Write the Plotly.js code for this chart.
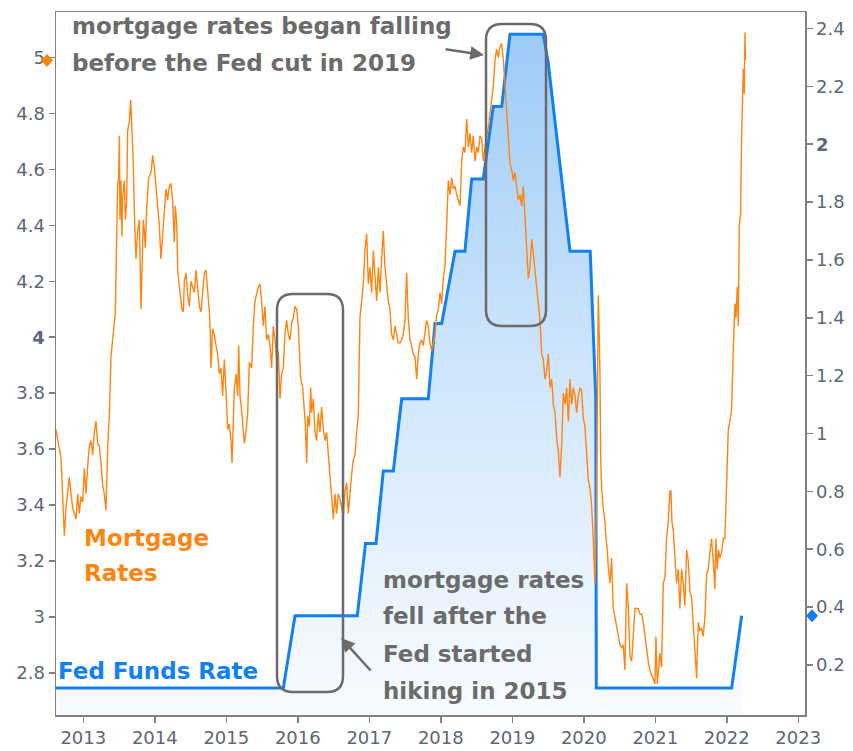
<!DOCTYPE html>
<html><head><meta charset="utf-8">
<script src="https://cdn.plot.ly/plotly-3.0.1.min.js"></script>
<style>html,body{margin:0;padding:0;background:#fff}#chart{width:853px;height:751px}</style>
</head><body><div id="chart"></div>
<script>
// ---- data ----
const mortYear = [2012.618,2012.641,2012.665,2012.688,2012.711,2012.735,2012.758,2012.781,2012.804,2012.828,2012.851,2012.874,2012.898,2012.921,2012.944,2012.968,2012.991,2013.014,2013.038,2013.061,2013.084,2013.107,2013.131,2013.154,2013.177,2013.201,2013.224,2013.247,2013.271,2013.294,2013.317,2013.341,2013.364,2013.387,2013.411,2013.434,2013.448,2013.466,2013.480,2013.494,2013.504,2013.513,2013.527,2013.541,2013.550,2013.574,2013.588,2013.606,2013.620,2013.644,2013.662,2013.681,2013.700,2013.718,2013.737,2013.760,2013.784,2013.807,2013.821,2013.839,2013.853,2013.867,2013.886,2013.914,2013.947,2013.970,2013.993,2014.017,2014.040,2014.063,2014.086,2014.110,2014.133,2014.156,2014.180,2014.203,2014.226,2014.250,2014.273,2014.287,2014.306,2014.320,2014.334,2014.352,2014.380,2014.399,2014.413,2014.436,2014.460,2014.483,2014.506,2014.529,2014.553,2014.576,2014.599,2014.623,2014.646,2014.669,2014.693,2014.716,2014.739,2014.763,2014.777,2014.786,2014.809,2014.832,2014.856,2014.879,2014.902,2014.926,2014.949,2014.972,2014.996,2015.019,2015.042,2015.066,2015.080,2015.098,2015.112,2015.136,2015.159,2015.173,2015.192,2015.210,2015.229,2015.252,2015.275,2015.299,2015.322,2015.354,2015.378,2015.401,2015.448,2015.471,2015.494,2015.517,2015.541,2015.564,2015.587,2015.611,2015.634,2015.657,2015.681,2015.704,2015.727,2015.751,2015.774,2015.797,2015.820,2015.844,2015.867,2015.890,2015.914,2015.937,2015.960,2015.984,2016.007,2016.021,2016.040,2016.068,2016.086,2016.105,2016.124,2016.138,2016.161,2016.180,2016.193,2016.217,2016.240,2016.263,2016.287,2016.310,2016.333,2016.357,2016.380,2016.403,2016.427,2016.450,2016.473,2016.497,2016.520,2016.543,2016.566,2016.590,2016.613,2016.636,2016.660,2016.683,2016.706,2016.730,2016.753,2016.776,2016.800,2016.823,2016.846,2016.869,2016.893,2016.916,2016.939,2016.963,2016.986,2017.009,2017.033,2017.056,2017.079,2017.103,2017.126,2017.149,2017.173,2017.196,2017.219,2017.242,2017.266,2017.289,2017.312,2017.336,2017.359,2017.382,2017.406,2017.429,2017.452,2017.475,2017.499,2017.522,2017.545,2017.569,2017.592,2017.615,2017.639,2017.662,2017.685,2017.709,2017.732,2017.755,2017.778,2017.802,2017.825,2017.848,2017.872,2017.895,2017.918,2017.942,2017.966,2017.989,2018.012,2018.035,2018.059,2018.082,2018.105,2018.129,2018.152,2018.175,2018.199,2018.222,2018.245,2018.269,2018.292,2018.315,2018.338,2018.362,2018.385,2018.408,2018.432,2018.455,2018.478,2018.502,2018.525,2018.548,2018.572,2018.595,2018.618,2018.642,2018.665,2018.688,2018.711,2018.735,2018.758,2018.781,2018.805,2018.828,2018.851,2018.875,2018.898,2018.921,2018.945,2018.968,2018.991,2019.015,2019.038,2019.061,2019.084,2019.108,2019.131,2019.154,2019.178,2019.201,2019.224,2019.248,2019.271,2019.294,2019.318,2019.341,2019.364,2019.387,2019.411,2019.434,2019.457,2019.481,2019.504,2019.527,2019.551,2019.574,2019.597,2019.621,2019.644,2019.667,2019.690,2019.714,2019.737,2019.760,2019.784,2019.807,2019.830,2019.854,2019.877,2019.900,2019.924,2019.947,2019.969,2019.993,2020.016,2020.039,2020.063,2020.086,2020.109,2020.132,2020.156,2020.179,2020.202,2020.216,2020.226,2020.235,2020.249,2020.272,2020.296,2020.310,2020.328,2020.342,2020.366,2020.389,2020.403,2020.412,2020.435,2020.459,2020.482,2020.505,2020.529,2020.552,2020.575,2020.599,2020.622,2020.645,2020.669,2020.692,2020.715,2020.738,2020.762,2020.785,2020.808,2020.832,2020.855,2020.878,2020.902,2020.925,2020.948,2020.972,2020.995,2021.009,2021.028,2021.046,2021.065,2021.088,2021.112,2021.135,2021.158,2021.181,2021.205,2021.219,2021.233,2021.251,2021.275,2021.298,2021.321,2021.345,2021.368,2021.391,2021.414,2021.438,2021.461,2021.484,2021.508,2021.531,2021.554,2021.578,2021.587,2021.601,2021.624,2021.648,2021.671,2021.694,2021.717,2021.741,2021.764,2021.787,2021.811,2021.834,2021.848,2021.867,2021.885,2021.904,2021.927,2021.951,2021.974,2021.997,2022.021,2022.044,2022.067,2022.091,2022.114,2022.128,2022.147,2022.161,2022.175,2022.193,2022.207,2022.231,2022.245,2022.254,2022.262];
const mortRate = [3.67,3.63,3.60,3.57,3.41,3.29,3.39,3.45,3.50,3.44,3.39,3.37,3.35,3.44,3.37,3.43,3.41,3.53,3.44,3.54,3.61,3.63,3.58,3.66,3.70,3.62,3.61,3.55,3.47,3.44,3.38,3.61,3.72,3.93,4.00,4.06,4.09,4.35,4.54,4.57,4.72,4.42,4.56,4.36,4.50,4.56,4.42,4.48,4.74,4.77,4.85,4.74,4.61,4.41,4.28,4.38,4.42,4.10,4.24,4.42,4.38,4.32,4.46,4.57,4.59,4.65,4.61,4.53,4.48,4.40,4.28,4.37,4.44,4.53,4.49,4.54,4.55,4.48,4.34,4.47,4.41,4.24,4.20,4.16,4.10,4.09,4.20,4.23,4.15,4.11,4.20,4.18,4.16,4.24,4.16,4.11,4.09,4.15,4.23,4.24,4.18,4.09,4.01,3.89,4.03,4.01,3.97,3.94,3.87,3.89,3.79,3.92,3.81,3.67,3.69,3.63,3.55,3.73,3.81,3.87,3.79,3.97,3.79,3.75,3.69,3.62,3.66,3.73,3.91,3.89,4.04,4.13,4.18,4.19,4.13,4.04,4.11,3.99,4.01,3.97,3.89,4.04,3.99,3.92,3.95,3.78,3.87,3.89,4.01,4.06,4.01,3.99,4.05,4.07,4.11,4.10,4.04,3.93,3.85,3.82,3.74,3.69,3.55,3.72,3.68,3.82,3.73,3.78,3.66,3.63,3.73,3.66,3.75,3.67,3.63,3.66,3.58,3.51,3.44,3.35,3.44,3.37,3.44,3.42,3.39,3.36,3.45,3.48,3.37,3.45,3.51,3.56,3.58,3.66,3.72,4.07,4.13,4.19,4.31,4.37,4.19,4.25,4.16,4.31,4.22,4.13,4.25,4.16,4.28,4.38,4.25,4.19,4.13,4.10,4.01,3.99,4.04,4.01,3.98,3.98,3.99,4.01,4.06,4.23,4.07,3.99,3.97,3.94,3.93,3.85,3.94,3.98,3.99,3.97,4.01,4.06,4.04,3.98,3.95,3.98,4.01,4.08,4.10,4.16,4.12,4.21,4.26,4.40,4.56,4.51,4.57,4.53,4.54,4.51,4.49,4.47,4.63,4.68,4.66,4.78,4.68,4.73,4.66,4.72,4.63,4.68,4.66,4.72,4.71,4.63,4.68,4.71,4.75,4.80,4.86,4.90,4.99,5.03,5.00,5.04,5.05,4.99,4.90,4.80,4.68,4.62,4.60,4.56,4.59,4.53,4.49,4.51,4.47,4.54,4.42,4.30,4.21,4.25,4.35,4.30,4.23,4.18,4.12,4.06,3.94,3.92,3.85,3.88,3.94,3.82,3.85,3.76,3.73,3.64,3.59,3.50,3.61,3.80,3.76,3.82,3.70,3.85,3.76,3.82,3.79,3.73,3.79,3.82,3.81,3.71,3.68,3.59,3.49,3.46,3.40,3.28,3.12,3.43,4.15,4.01,3.87,3.59,3.46,3.39,3.34,3.28,3.24,3.18,3.12,3.21,3.07,3.03,3.00,2.96,2.93,2.90,2.89,2.90,2.81,3.12,3.04,2.86,2.84,2.96,3.03,3.03,3.03,3.01,3.01,2.98,2.93,2.87,2.84,2.81,2.79,2.78,2.76,2.93,2.76,2.81,2.87,2.82,3.12,3.14,3.28,3.34,3.45,3.45,3.34,3.31,3.20,3.12,3.17,3.03,3.17,3.12,3.04,3.24,3.20,3.09,3.07,2.96,2.89,2.78,2.86,2.98,2.95,2.96,2.93,3.00,3.15,3.17,3.23,3.28,3.20,3.10,3.28,3.17,3.24,3.21,3.23,3.28,3.28,3.48,3.67,3.70,3.74,3.96,4.12,4.07,4.18,4.04,4.40,4.44,4.71,4.96,4.87,5.09,4.99];

const fedYear = [2012.618,2015.797,2015.961,2016.832,2016.947,2017.094,2017.196,2017.336,2017.453,2017.825,2017.919,2018.013,2018.199,2018.338,2018.432,2018.594,2018.734,2018.852,2018.968,2019.434,2019.503,2019.573,2019.621,2019.713,2019.807,2020.090,2020.111,2020.133,2020.154,2020.168,2020.175,2022.068,2022.208];
const fedRate = [0.12,0.12,0.37,0.37,0.62,0.62,0.87,0.87,1.12,1.12,1.38,1.38,1.63,1.63,1.88,1.88,2.13,2.13,2.38,2.38,2.28,2.13,2.03,1.85,1.63,1.63,1.50,1.37,1.24,1.12,0.12,0.12,0.37];

const xTicks = [2013,2014,2015,2016,2017,2018,2019,2020,2021,2022,2023];
const leftTicks = [2.8,3,3.2,3.4,3.6,3.8,4,4.2,4.4,4.6,4.8,5];
const leftTickText = ['2.8','3','3.2','3.4','3.6','3.8','<b>4</b>','4.2','4.4','4.6','4.8','5'];
const rightTicks = [0.2,0.4,0.6,0.8,1,1.2,1.4,1.6,1.8,2,2.2,2.4];
const rightTickText = ['0.2','0.4','0.6','0.8','1','1.2','1.4','1.6','1.8','<b>2</b>','2.2','2.4'];

// ---- layout helpers (pixel -> paper) ----
const W = 853, H = 751, ML = 56, MR = 48, MT = 12, MB = 36;
const PW = W - ML - MR, PH = H - MT - MB;
const px = x => (x - ML) / PW;
const py = y => (H - MB - y) / PH;
function rr(x0, y0, x1, y1, r) {
  const P = (x, y) => px(x).toFixed(5) + ',' + py(y).toFixed(5);
  return 'M' + P(x0 + r, y0) + ' L' + P(x1 - r, y0) + ' Q' + P(x1, y0) + ' ' + P(x1, y0 + r) +
    ' L' + P(x1, y1 - r) + ' Q' + P(x1, y1) + ' ' + P(x1 - r, y1) +
    ' L' + P(x0 + r, y1) + ' Q' + P(x0, y1) + ' ' + P(x0, y1 - r) +
    ' L' + P(x0, y0 + r) + ' Q' + P(x0, y0) + ' ' + P(x0 + r, y0) + ' Z';
}
function diamond(cx) { // pixel-size diamond centred cx px from the anchor
  return 'M' + (cx - 6) + ',0 L' + cx + ',6.5 L' + (cx + 6) + ',0 L' + cx + ',-6.5 Z';
}

const ORANGE = '#ff8410', BLUE = '#1380f2', GRAY = '#6b6b6b', TICK = '#5d6776';
const FONT = 'DejaVu Sans, Verdana, sans-serif';
const xRange = [2012.618, 2023.094];

const traces = [
  {
    x: fedYear, y: fedRate, yaxis: 'y', type: 'scatter', mode: 'lines',
    line: {color: BLUE, width: 3}, fill: 'tozeroy',
    fillgradient: {type: 'vertical', start: 0, stop: 2.4,
      colorscale: [[0, 'rgba(250,252,255,1)'], [0.5, 'rgba(208,230,252,1)'], [1, 'rgba(155,203,247,1)']]},
    hoverinfo: 'skip'
  },
  {
    x: mortYear, y: mortRate, yaxis: 'y2', type: 'scatter', mode: 'lines',
    line: {color: ORANGE, width: 1.4}, hoverinfo: 'skip'
  }
];

const annFont = (c) => ({family: FONT, size: 23, color: c, weight: 'bold'});
function txt(text, x, yc, color) {
  return {xref: 'paper', yref: 'paper', x: px(x), y: py(yc), xanchor: 'left', yanchor: 'middle',
    text: '<b>' + text + '</b>', showarrow: false, font: annFont(color)};
}

const annotations = [
  txt('mortgage rates began falling', 70, 26, GRAY),
  txt('before the Fed cut in 2019', 70, 63, GRAY),
  txt('mortgage rates', 381, 580, GRAY),
  txt('fell after the', 381, 616, GRAY),
  txt('Fed started', 381, 654, GRAY),
  txt('hiking in 2015', 381, 691, GRAY),
  txt('Mortgage', 82, 538, ORANGE),
  txt('Rates', 82, 573, ORANGE),
  txt('Fed Funds Rate', 56, 671, BLUE),
  {xref: 'paper', yref: 'paper', x: px(484), y: py(55), ax: -40, ay: -6, text: '',
    showarrow: true, arrowhead: 2, arrowsize: 1.1, arrowwidth: 2.5, arrowcolor: GRAY, standoff: 0},
  {xref: 'paper', yref: 'paper', x: px(341), y: py(638), ax: 31, ay: 34, text: '',
    showarrow: true, arrowhead: 2, arrowsize: 1.1, arrowwidth: 2.5, arrowcolor: GRAY, standoff: 0}
];

const shapes = [
  {type: 'path', xref: 'paper', yref: 'paper', path: rr(277, 294, 343, 692, 16),
    line: {color: GRAY, width: 2.5}},
  {type: 'path', xref: 'paper', yref: 'paper', path: rr(486, 24, 546, 326, 16),
    line: {color: GRAY, width: 2.5}},
  // last-value markers on the two value axes
  {type: 'path', xref: 'paper', yref: 'y2', xsizemode: 'pixel', ysizemode: 'pixel',
    xanchor: 0, yanchor: mortRate[mortRate.length - 1], path: diamond(-9),
    fillcolor: ORANGE, line: {width: 0}},
  {type: 'path', xref: 'paper', yref: 'y', xsizemode: 'pixel', ysizemode: 'pixel',
    xanchor: 1, yanchor: fedRate[fedRate.length - 1], path: diamond(7),
    fillcolor: BLUE, line: {width: 0}}
];

const axisCommon = {showgrid: false, zeroline: false, showline: true, linecolor: '#808080', linewidth: 1.5,
  ticks: 'outside', ticklen: 6, tickwidth: 1.5, tickcolor: '#808080',
  tickfont: {family: FONT, size: 18, color: TICK}};

const layout = {
  width: W, height: H, margin: {l: ML, r: MR, t: MT, b: MB, pad: 0},
  paper_bgcolor: '#fff', plot_bgcolor: '#fff', showlegend: false,
  xaxis: Object.assign({}, axisCommon, {range: xRange, tickvals: xTicks, ticktext: xTicks.map(String), mirror: true}),
  yaxis: Object.assign({}, axisCommon, {range: [0.027, 2.457], side: 'right', tickvals: rightTicks, ticktext: rightTickText}),
  yaxis2: Object.assign({}, axisCommon, {range: [2.649, 5.163], side: 'left', overlaying: 'y', tickvals: leftTicks, ticktext: leftTickText}),
  annotations: annotations, shapes: shapes
};

Plotly.newPlot('chart', traces, layout, {staticPlot: true, displayModeBar: false});
</script>
</body></html>
